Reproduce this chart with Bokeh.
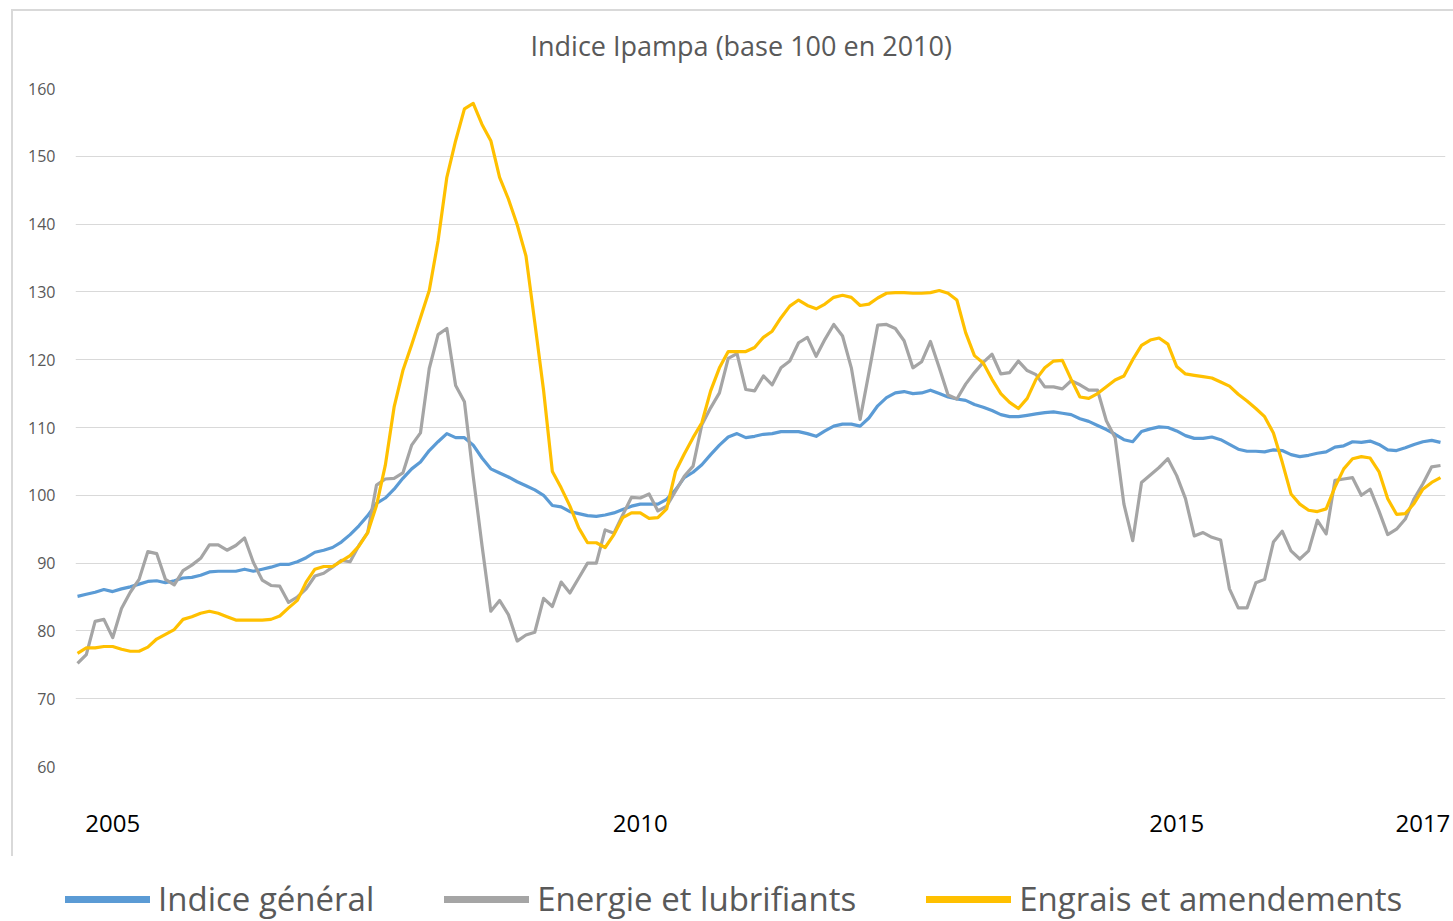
import pandas as pd
from bokeh.plotting import figure
from bokeh.layouts import column
from bokeh.models import Range1d, FixedTicker, Legend, LegendItem, InlineStyleSheet
from bokeh.embed import file_html
from bokeh.resources import INLINE

# Monthly series, January 2005 -> December 2017 (base 100 en 2010)
months = pd.date_range("2005-01-01", periods=156, freq="MS")
idx = list(range(len(months)))

indice_general = [
    85.1, 85.4, 85.7, 86.1, 85.8, 86.2, 86.5, 86.9, 87.3, 87.4, 87.1, 87.4,
    87.8, 87.9, 88.2, 88.7, 88.8, 88.8, 88.8, 89.1, 88.8, 89.1, 89.4, 89.8,
    89.8, 90.2, 90.8, 91.6, 91.9, 92.3, 93.1, 94.2, 95.5, 97.0, 98.8, 99.6,
    100.9, 102.5, 103.9, 104.9, 106.6, 107.9, 109.1, 108.5, 108.5, 107.4, 105.5, 103.9,
    103.3, 102.7, 102.0, 101.4, 100.8, 100.0, 98.5, 98.3, 97.6, 97.3, 97.0, 96.9,
    97.1, 97.4, 97.9, 98.4, 98.7, 98.7, 98.7, 99.4, 100.8, 102.6, 103.4, 104.5,
    106.0, 107.4, 108.6, 109.1, 108.5, 108.7, 109.0, 109.1, 109.4, 109.4, 109.4, 109.1,
    108.7, 109.5, 110.2, 110.5, 110.5, 110.2, 111.4, 113.2, 114.4, 115.1, 115.3, 115.0,
    115.1, 115.5, 115.0, 114.5, 114.2, 114.0, 113.4, 113.0, 112.5, 111.9, 111.6, 111.6,
    111.8, 112.0, 112.2, 112.3, 112.1, 111.9, 111.3, 110.9, 110.3, 109.7, 109.0, 108.2,
    107.9, 109.4, 109.8, 110.1, 110.0, 109.5, 108.8, 108.4, 108.4, 108.6, 108.2, 107.5,
    106.8, 106.5, 106.5, 106.4, 106.7, 106.6, 106.0, 105.7, 105.9, 106.2, 106.4, 107.1,
    107.3, 107.9, 107.8, 108.0, 107.5, 106.7, 106.6, 107.0, 107.5, 107.9, 108.1, 107.8,
]

energie_lubrifiants = [
    75.2, 76.5, 81.4, 81.7, 79.0, 83.3, 85.7, 87.6, 91.7, 91.4, 87.6, 86.8,
    88.9, 89.7, 90.7, 92.7, 92.7, 91.9, 92.6, 93.7, 90.1, 87.5, 86.7, 86.6,
    84.2, 85.0, 86.2, 88.1, 88.5, 89.4, 90.4, 90.2, 92.6, 94.5, 101.5, 102.4,
    102.5, 103.3, 107.4, 109.2, 118.7, 123.7, 124.6, 116.2, 113.8, 102.8, 92.6, 82.9,
    84.5, 82.4, 78.5, 79.4, 79.8, 84.8, 83.6, 87.2, 85.6, 87.8, 90.0, 90.0,
    94.9, 94.4, 97.1, 99.7, 99.6, 100.2, 97.7, 98.4, 100.6, 102.8, 104.3, 110.4,
    112.9, 115.1, 120.2, 120.9, 115.6, 115.4, 117.6, 116.3, 118.8, 119.8, 122.5, 123.3,
    120.5, 123.0, 125.2, 123.5, 118.8, 111.2, 118.1, 125.1, 125.2, 124.6, 122.8, 118.8,
    119.7, 122.7, 118.8, 114.8, 114.2, 116.4, 118.1, 119.6, 120.8, 117.9, 118.1, 119.8,
    118.4, 117.8, 116.0, 116.0, 115.7, 116.9, 116.3, 115.5, 115.5, 111.0, 108.5, 98.7,
    93.3, 101.9, 103.0, 104.1, 105.4, 102.9, 99.5, 94.0, 94.5, 93.8, 93.4, 86.2,
    83.4, 83.4, 87.1, 87.6, 93.1, 94.7, 91.8, 90.6, 91.8, 96.3, 94.3, 102.2,
    102.4, 102.6, 100.0, 100.9, 97.7, 94.2, 95.0, 96.5, 99.5, 101.7, 104.2, 104.4,
]

engrais_amendements = [
    76.7, 77.5, 77.5, 77.7, 77.7, 77.3, 77.0, 77.0, 77.6, 78.8, 79.5, 80.2,
    81.7, 82.1, 82.6, 82.9, 82.6, 82.1, 81.6, 81.6, 81.6, 81.6, 81.7, 82.2,
    83.4, 84.5, 87.2, 89.1, 89.5, 89.5, 90.3, 91.1, 92.5, 94.5, 98.5, 104.4,
    113.0, 118.4, 122.2, 126.2, 130.2, 137.5, 146.9, 152.3, 157.0, 157.8, 154.7, 152.3,
    146.9, 143.7, 139.9, 135.3, 125.5, 115.5, 103.5, 101.1, 98.4, 95.2, 93.0, 93.0,
    92.3, 94.2, 96.7, 97.4, 97.4, 96.6, 96.7, 98.0, 103.5, 106.1, 108.5, 110.7,
    115.4, 118.8, 121.2, 121.2, 121.2, 121.8, 123.3, 124.2, 126.2, 127.9, 128.8, 128.0,
    127.5, 128.2, 129.2, 129.5, 129.2, 128.0, 128.2, 129.1, 129.8, 129.9, 129.9, 129.8,
    129.8, 129.9, 130.2, 129.8, 128.8, 124.0, 120.6, 119.5, 117.1, 115.0, 113.7, 112.8,
    114.3, 117.1, 118.8, 119.8, 119.9, 117.1, 114.5, 114.3, 115.0, 116.0, 117.0, 117.6,
    120.0, 122.1, 122.9, 123.2, 122.3, 119.0, 117.9, 117.7, 117.5, 117.3, 116.7, 116.1,
    114.9, 113.9, 112.8, 111.6, 109.2, 104.9, 100.2, 98.7, 97.8, 97.6, 98.0, 101.2,
    103.9, 105.4, 105.7, 105.5, 103.5, 99.5, 97.2, 97.3, 98.8, 100.9, 101.9, 102.6,
]

series_names = ["Indice général", "Energie et lubrifiants", "Engrais et amendements"]
series_colors = ["#5B9BD5", "#A5A5A5", "#FFC000"]
year_ticks = [4, 64, 125, 153]
year_labels = ["2005", "2010", "2015", "2017"]
y_ticks = list(range(60, 161, 10))
title_text = "Indice Ipampa (base 100 en 2010)"

FONT = "Open Sans"

# ---------------- main chart ----------------
p = figure(
    width=1453, height=860,
    x_range=Range1d(-0.23, 155.57), y_range=Range1d(60, 160),
    output_backend="svg", toolbar_location=None,
    min_border_left=75, min_border_right=8, min_border_top=88, min_border_bottom=94,
    title=title_text,
)
p.outline_line_color = None
p.background_fill_color = "white"
p.border_fill_color = "white"

# light-grey chart-area border (top and left edges), drawn with CSS
p.stylesheets = [InlineStyleSheet(css="""
:host::after {
  content: "";
  position: absolute;
  left: 11px; top: 9px; width: 1450px; height: 847px;
  border-left: 2px solid #d9d9d9;
  border-top: 2px solid #d9d9d9;
  pointer-events: none;
  z-index: 10;
}
""")]

p.title.align = "left"
p.title.offset = 455
p.title.text_font = FONT
p.title.text_font_size = "27px"
p.title.text_font_style = "normal"
p.title.text_color = "#595959"
p.title.standoff = 49

# y axis
p.yaxis.ticker = FixedTicker(ticks=y_ticks)
p.yaxis.axis_line_color = None
p.yaxis.major_tick_line_color = None
p.yaxis.minor_tick_line_color = None
p.yaxis.major_label_text_color = "#595959"
p.yaxis.major_label_text_font = FONT
p.yaxis.major_label_text_font_size = "16px"
p.yaxis.major_label_standoff = 14

# x axis (year labels)
p.xaxis.ticker = FixedTicker(ticks=year_ticks)
p.xaxis.major_label_overrides = {t: l for t, l in zip(year_ticks, year_labels)}
p.xaxis.axis_line_color = None
p.xaxis.major_tick_line_color = None
p.xaxis.minor_tick_line_color = None
p.xaxis.major_label_text_color = "black"
p.xaxis.major_label_text_font = FONT
p.xaxis.major_label_text_font_size = "24px"
p.xaxis.major_label_standoff = 42

p.xgrid.grid_line_color = None
p.ygrid.ticker = FixedTicker(ticks=y_ticks)
p.ygrid.grid_line_color = "#d9d9d9"
p.ygrid.grid_line_width = 1

all_series = [indice_general, energie_lubrifiants, engrais_amendements]
for name, color, vals in zip(series_names, series_colors, all_series):
    p.line(idx, vals, line_width=3.2, line_color=color, line_join="round")

# ---------------- legend strip below the chart ----------------
lg = figure(
    width=1453, height=61,
    x_range=Range1d(0, 1), y_range=Range1d(0, 1),
    output_backend="svg", toolbar_location=None,
    x_axis_location=None, y_axis_location=None,
    min_border_left=0, min_border_right=0, min_border_top=0, min_border_bottom=0,
)
lg.outline_line_color = None
lg.grid.visible = False
lg.background_fill_color = "white"
lg.border_fill_color = "white"

if "frame_align" in lg.properties():
    lg.frame_align = False
    legend_loc = (65, 0)
else:
    legend_loc = (0, 0)

items = []
for name, color, vals in zip(series_names, series_colors, all_series):
    # single-point proxy (draws nothing in the strip, only feeds the legend glyph)
    proxy = lg.line(x=idx[:1], y=vals[:1], line_width=7, line_color=color, line_cap="round")
    items.append(LegendItem(label=name, renderers=[proxy]))

legend = Legend(items=items, orientation="horizontal", location=legend_loc,
                glyph_width=85, glyph_height=20, label_standoff=8, spacing=70,
                padding=0, margin=0, border_line_color=None,
                background_fill_alpha=0,
                label_text_font=FONT, label_text_font_size="33px",
                label_text_color="#595959")
lg.add_layout(legend, "center")

layout = column(p, lg, spacing=0)
open("out.html", "w").write(file_html(layout, INLINE))
